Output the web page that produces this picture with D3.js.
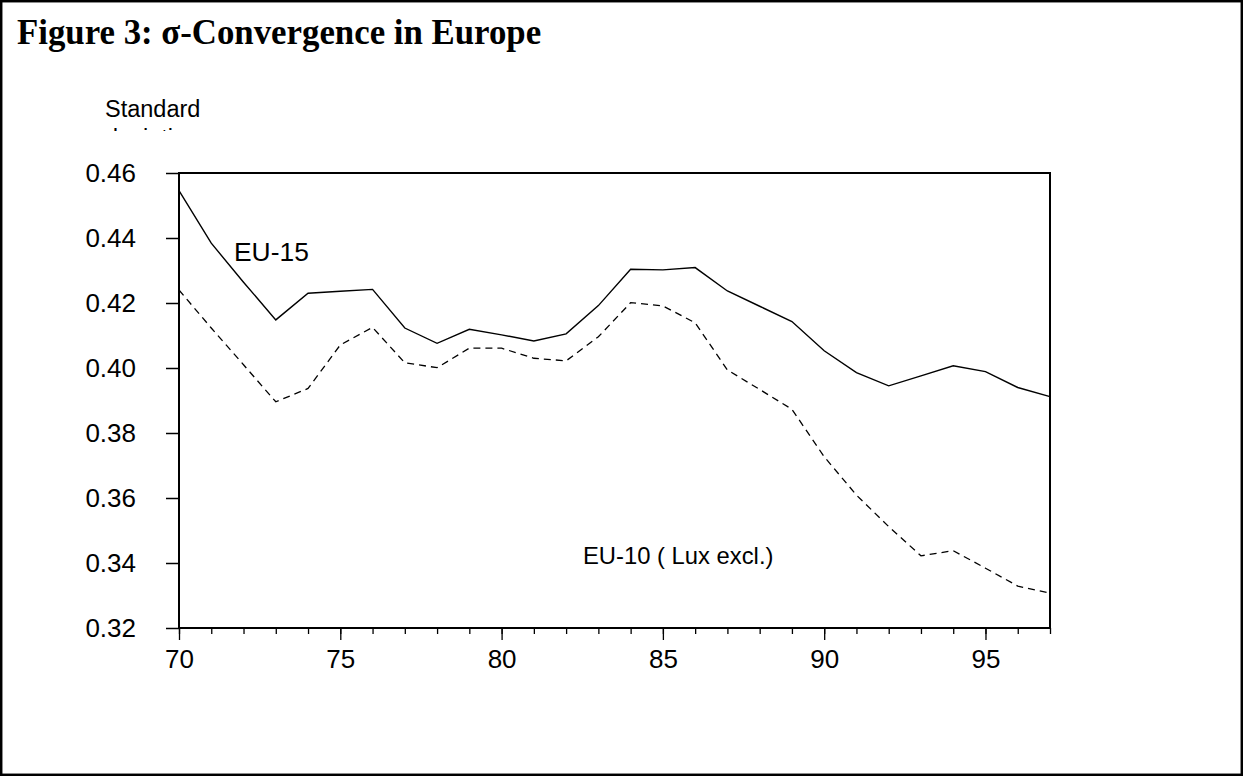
<!DOCTYPE html>
<html>
<head>
<meta charset="utf-8">
<script src="https://cdn.jsdelivr.net/npm/d3@7"></script>
<style>
  body { margin: 0; background: #fff; }
  svg { display: block; }
</style>
</head>
<body>
<svg id="chart"></svg>
<script>
const years = d3.range(70, 98);
// standard deviation, EU-15 (solid line)
const eu15 = [0.4546, 0.4384, 0.4264, 0.4148, 0.4230, 0.4236, 0.4242, 0.4123, 0.4076, 0.4119,
    0.4102, 0.4083, 0.4105, 0.4192, 0.4304, 0.4302, 0.4309, 0.4237, 0.4190, 0.4143,
    0.4053, 0.3986, 0.3945, 0.3976, 0.4007, 0.3989, 0.3940, 0.3912];
// standard deviation, EU-10 without Luxembourg (dashed line)
const eu10 = [0.4240, 0.4123, 0.4010, 0.3896, 0.3937, 0.4071, 0.4125, 0.4016, 0.4001, 0.4061,
    0.4061, 0.4030, 0.4022, 0.4096, 0.4201, 0.4191, 0.4139, 0.3994, 0.3934, 0.3873,
    0.3727, 0.3609, 0.3512, 0.3422, 0.3438, 0.3384, 0.3329, 0.3307];
const yTicks = [0.32, 0.34, 0.36, 0.38, 0.40, 0.42, 0.44, 0.46];
const xLabelled = [70, 75, 80, 85, 90, 95];

const width = 1243, height = 776;
const plotLeft = 179, plotRight = 1050, plotTop = 173, plotBottom = 628;

const x = d3.scaleLinear([70, 97], [plotLeft, plotRight]);
const y = d3.scaleLinear([0.32, 0.46], [plotBottom, plotTop]);

const svg = d3.select("#chart")
    .attr("width", width)
    .attr("height", height)
    .attr("viewBox", [0, 0, width, height]);

// page border
svg.append("rect")
    .attr("x", 1.2).attr("y", 1.2)
    .attr("width", width - 2.4).attr("height", height - 2.4)
    .attr("fill", "none").attr("stroke", "#000").attr("stroke-width", 2.5);

svg.append("text")
    .attr("x", 17).attr("y", 44)
    .attr("font-family", "'Liberation Serif', 'Times New Roman', serif")
    .attr("font-weight", "bold")
    .attr("font-size", 34.8)
    .text("Figure 3: σ-Convergence in Europe");

// y axis title, second line cut off as in the original
svg.append("clipPath").attr("id", "cut")
    .append("rect").attr("x", 0).attr("y", 0).attr("width", 400).attr("height", 131);
const ytitle = svg.append("g")
    .attr("font-family", "'Liberation Sans', Arial, sans-serif")
    .attr("font-size", 23.5)
    .attr("clip-path", "url(#cut)");
ytitle.append("text").attr("x", 105).attr("y", 117).text("Standard");
ytitle.append("text").attr("x", 105).attr("y", 146).text("deviation");

const yAxis = g => g
    .attr("transform", `translate(${plotLeft},0)`)
    .call(d3.axisLeft(y).tickValues(yTicks).tickFormat(d3.format(".2f")).tickSize(13).tickPadding(30))
    .call(g => g.select(".domain").remove())
    .call(g => g.selectAll(".tick line").attr("stroke-width", 1.5));

const xMinor = g => g
    .attr("transform", `translate(0,${plotBottom})`)
    .call(d3.axisBottom(x).tickValues(years).tickFormat("").tickSize(6))
    .call(g => g.select(".domain").remove())
    .call(g => g.selectAll(".tick line").attr("stroke-width", 1.3));

const xMajor = g => g
    .attr("transform", `translate(0,${plotBottom})`)
    .call(d3.axisBottom(x).tickValues(xLabelled).tickFormat(d3.format("d")).tickSize(12).tickPadding(10))
    .call(g => g.select(".domain").remove())
    .call(g => g.selectAll(".tick line").attr("stroke-width", 1.3));

svg.append("g").call(yAxis);
svg.append("g").call(xMinor);
svg.append("g").call(xMajor);

svg.selectAll(".tick text")
    .attr("font-family", "'Liberation Sans', Arial, sans-serif")
    .attr("font-size", 26)
    .attr("fill", "#000");

const line = d3.line()
    .x((d, i) => x(years[i]))
    .y(d => y(d));

svg.append("path")
    .datum(eu15)
    .attr("fill", "none")
    .attr("stroke", "#000")
    .attr("stroke-width", 1.4)
    .attr("d", line);

svg.append("path")
    .datum(eu10)
    .attr("fill", "none")
    .attr("stroke", "#000")
    .attr("stroke-width", 1.3)
    .attr("stroke-dasharray", "7,5")
    .attr("d", line);

// plot frame
svg.append("rect")
    .attr("x", plotLeft).attr("y", plotTop)
    .attr("width", plotRight - plotLeft).attr("height", plotBottom - plotTop)
    .attr("fill", "none").attr("stroke", "#000").attr("stroke-width", 2);

const labels = svg.append("g")
    .attr("font-family", "'Liberation Sans', Arial, sans-serif");
labels.append("text").attr("x", 234).attr("y", 261).attr("font-size", 26.4).text("EU-15");
labels.append("text").attr("x", 583).attr("y", 564).attr("font-size", 23.8).text("EU-10 ( Lux excl.)");
</script>
</body>
</html>
